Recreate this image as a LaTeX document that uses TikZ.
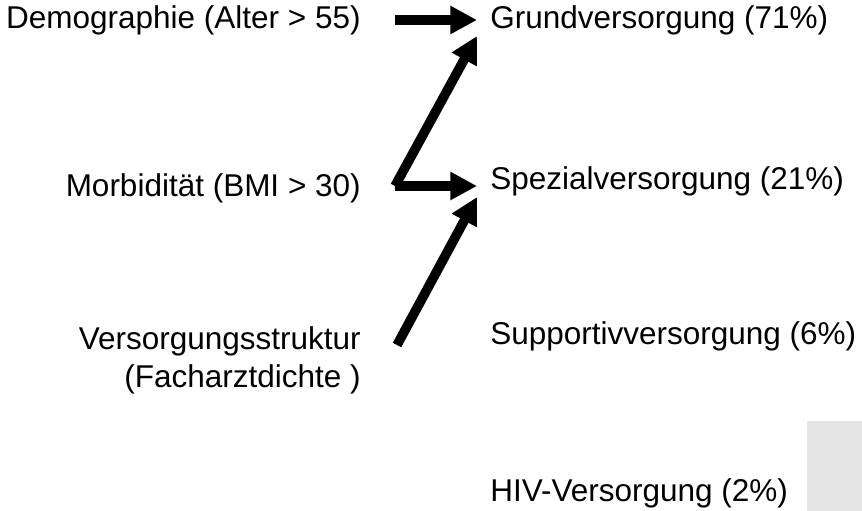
\documentclass[tikz,border=0pt]{standalone}
\usepackage{fontspec}
\setmainfont{Liberation Sans}
\usetikzlibrary{arrows.meta,positioning}
\tikzset{
  links/.style={anchor=east,align=right,inner sep=0pt,font=\fontsize{22.4}{27}\selectfont},
  rechts/.style={anchor=west,inner sep=0pt,font=\fontsize{22.4}{27}\selectfont},
  pfeil/.style={line width=6.8pt,-{Triangle[length=19pt,width=19pt]}}
}
\begin{document}
\begin{tikzpicture}[x=0.025cm,y=-0.025cm]
\useasboundingbox (0,0) rectangle (862,511);
\fill[black!10] (807,421) rectangle (862,511);
% Einflussfaktoren
\node[links] (demo) at (361,20) {Demographie (Alter > 55)};
\node[links] (morb) at (361,188) {Morbidität (BMI > 30)};
\node[links] (struk) at (361,360) {Versorgungsstruktur\\(Facharztdichte )};
% Versorgungsebenen
\node[rechts] (grund) at (490,20) {Grundversorgung (71\%)};
\node[rechts] (spez) at (490,181) {Spezialversorgung (21\%)};
\node[rechts] (supp) at (490,336) {Supportivversorgung (6\%)};
\node[rechts] (hiv) at (490,493) {HIV-Versorgung (2\%)};
\coordinate (d0) at (395,20);
\coordinate (m0) at (395,186);
\coordinate (s0) at (397,345);
\coordinate (g1) at (477,20);
\coordinate (g2) at (477,36);
\coordinate (p1) at (477,186);
\coordinate (p2) at (477,197);
\draw[pfeil] (d0) -- (g1);
\draw[pfeil] (m0) -- (g2);
\draw[pfeil] (m0) -- (p1);
\draw[pfeil] (s0) -- (p2);
\end{tikzpicture}
\end{document}
